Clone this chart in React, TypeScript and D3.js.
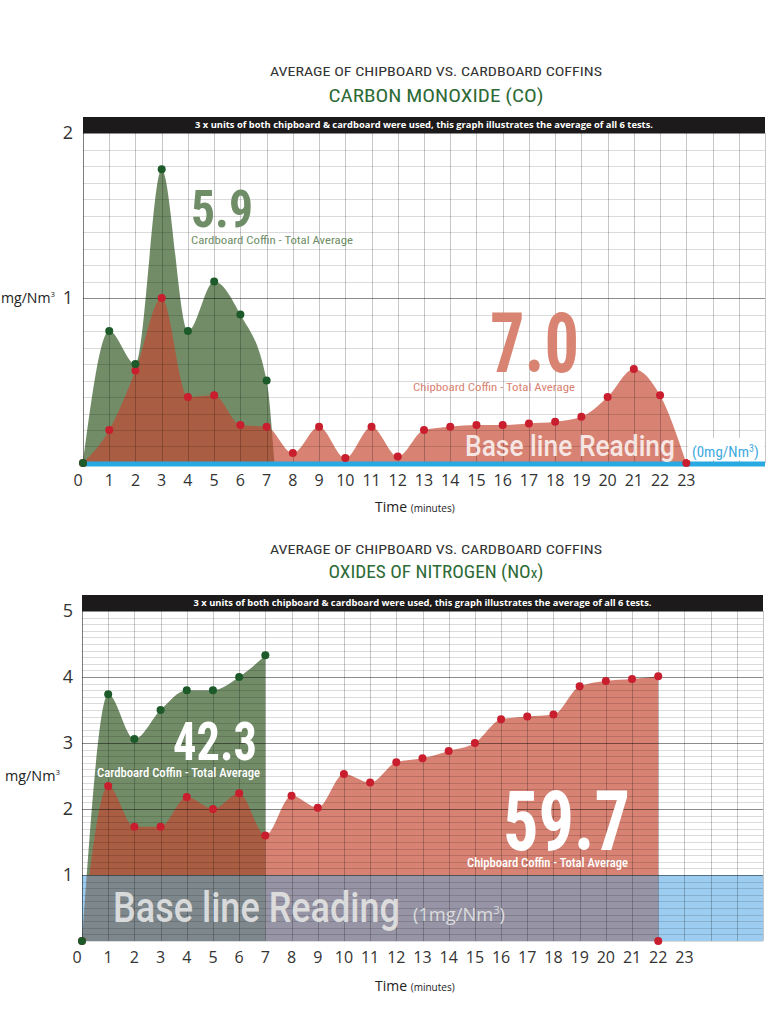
import { useEffect, useRef } from 'react'
import * as d3 from 'd3'

// x positions (minutes)
const coMinutesCardboard = [0, 1, 2, 3, 4, 5, 6, 7]
const coCardboard = [0, 0.8, 0.6, 1.78, 0.8, 1.1, 0.9, 0.5]
const coCardboardEnd = 7.3 // area meets zero here
const coMinutesChipboard = [0, 1, 2, 3, 4, 5, 6, 7, 8, 9, 10, 11, 12, 13, 14, 15, 16, 17, 18, 19, 20, 21, 22, 23]
const coChipboard = [0, 0.2, 0.56, 1.0, 0.4, 0.41, 0.23, 0.22, 0.06, 0.22, 0.03, 0.22, 0.04, 0.2, 0.22, 0.23, 0.23, 0.24, 0.25, 0.28, 0.4, 0.57, 0.41, 0]

const noxMinutesCardboard = [0, 1, 2, 3, 4, 5, 6, 7]
const noxCardboard = [0, 3.74, 3.06, 3.5, 3.8, 3.8, 4.0, 4.33]
const noxMinutesChipboard = [0, 1, 2, 3, 4, 5, 6, 7, 8, 9, 10, 11, 12, 13, 14, 15, 16, 17, 18, 19, 20, 21, 22]
const noxChipboard = [0, 2.35, 1.73, 1.73, 2.18, 2.0, 2.24, 1.6, 2.2, 2.02, 2.53, 2.4, 2.71, 2.77, 2.88, 3.0, 3.36, 3.4, 3.43, 3.86, 3.94, 3.97, 4.01]

const xTickLabels = ['0', '1', '2', '3', '4', '5', '6', '7', '8', '9', '10', '11', '12', '13', '14', '15', '16', '17', '18', '19', '20', '21', '22', '23']
const coYTicks = [1, 2]
const noxYTicks = [1, 2, 3, 4, 5]

const DIN = "'Roboto Condensed', 'Liberation Sans Narrow', 'DejaVu Sans Condensed', Roboto, sans-serif"
const WIDE = "Roboto, 'Open Sans', sans-serif"
const BODY = "'Open Sans', 'Noto Sans', sans-serif"

const GREEN_FILL = '#728c68'
const RED_FILL = '#c44731'
const GREEN_DOT = '#1d5a2a'
const RED_DOT = '#c81e2d'
const BLUE = '#29a9e1'
const BAND_BLUE = '#9ccdf0'

type Pt = [number, number]
type Svg = d3.Selection<SVGSVGElement, unknown, null, undefined>

interface Panel {
  id: string
  left: number
  right: number
  top: number
  bottom: number
  yMax: number
  yTicks: number[]
  title1Y: number
  title2: string
  title2Y: number
  unitX: number
  unitY: number
  unitW: number
  axisLabelY: number
  tickY: number
  green: Pt[]
  greenDots: Pt[]
  red: Pt[]
  redDots: Pt[]
  band?: number
}

function drawPanel(svg: Svg, p: Panel) {
  const x = d3.scaleLinear().domain([0, 26]).range([p.left, p.right])
  const y = d3.scaleLinear().domain([0, p.yMax]).range([p.bottom, p.top])
  const g = svg.append('g')

  g.append('text')
    .attr('x', 436).attr('y', p.title1Y)
    .attr('text-anchor', 'middle').attr('font-family', DIN).attr('font-size', 13)
    .attr('fill', '#333').attr('textLength', 332).attr('lengthAdjust', 'spacingAndGlyphs')
    .text('AVERAGE OF CHIPBOARD VS. CARDBOARD COFFINS')

  const t2 = g.append('text')
    .attr('x', 436).attr('y', p.title2Y)
    .attr('text-anchor', 'middle').attr('font-family', DIN).attr('font-size', 19)
    .attr('fill', '#2e6b36').attr('textLength', 215).attr('lengthAdjust', 'spacingAndGlyphs')
  if (p.title2.endsWith('(NOx)')) {
    t2.append('tspan').text('OXIDES OF NITROGEN (NO')
    t2.append('tspan').attr('font-size', 15).text('x')
    t2.append('tspan').text(')')
  } else {
    t2.text(p.title2)
  }

  // black strip
  g.append('rect')
    .attr('x', p.left).attr('y', p.top - 16)
    .attr('width', p.right - p.left).attr('height', 16).attr('fill', '#1c1a1a')
  g.append('text')
    .attr('x', (p.left + p.right) / 2).attr('y', p.top - 5)
    .attr('text-anchor', 'middle').attr('font-family', BODY).attr('font-weight', 700)
    .attr('font-size', 9).attr('fill', '#fff')
    .attr('textLength', 458).attr('lengthAdjust', 'spacingAndGlyphs')
    .text('3 x units of both chipboard & cardboard were used, this graph illustrates the average of all 6 tests.')

  g.append('rect')
    .attr('x', p.left).attr('y', p.top)
    .attr('width', p.right - p.left).attr('height', p.bottom - p.top).attr('fill', '#fff')

  const area = d3.area<Pt>()
    .x((d) => x(d[0]))
    .y0(y(0))
    .y1((d) => y(d[1]))
    .curve(d3.curveMonotoneX)

  g.append('path').datum(p.green).attr('fill', GREEN_FILL).attr('d', area)
  g.append('path').datum(p.red).attr('fill', RED_FILL).attr('opacity', 0.68).attr('d', area)

  if (p.band !== undefined) {
    g.append('rect')
      .attr('x', x(0)).attr('y', y(p.band))
      .attr('width', x(26) - x(0)).attr('height', y(0) - y(p.band))
      .attr('fill', BAND_BLUE)
    g.append('clipPath').attr('id', `band-${p.id}`)
      .append('rect')
      .attr('x', x(0)).attr('y', y(p.band))
      .attr('width', x(26) - x(0)).attr('height', y(0) - y(p.band))
    const bandG = g.append('g').attr('clip-path', `url(#band-${p.id})`)
    bandG.append('path').datum(p.red).attr('fill', '#9694a5').attr('d', area)
    bandG.append('path').datum(p.green).attr('fill', '#7d878c').attr('d', area)
  }

  // grid on top of the fills
  const minor = y.ticks(p.yMax * 10)
  g.selectAll(`.hgrid-${p.id}`)
    .data(minor)
    .enter().append('line')
    .attr('x1', x(0)).attr('x2', x(26))
    .attr('y1', (d) => Math.round(y(d)) + 0.5).attr('y2', (d) => Math.round(y(d)) + 0.5)
    .attr('stroke', '#000')
    .attr('stroke-opacity', (d) => (Math.abs(d - Math.round(d)) < 1e-6 && d > 0 ? 0.45 : 0.14))
  g.selectAll(`.vgrid-${p.id}`)
    .data(d3.range(0, 27))
    .enter().append('line')
    .attr('x1', (d) => Math.round(x(d)) + 0.5).attr('x2', (d) => Math.round(x(d)) + 0.5)
    .attr('y1', p.top).attr('y2', p.bottom)
    .attr('stroke', '#000')
    .attr('stroke-opacity', (d) => (d === 0 ? 0.5 : 0.22))

  if (p.band === undefined) {
    g.append('line')
      .attr('x1', x(0)).attr('x2', x(26))
      .attr('y1', y(0) + 1).attr('y2', y(0) + 1)
      .attr('stroke', BLUE).attr('stroke-width', 5)
  }

  g.selectAll(`.rdot-${p.id}`)
    .data(p.redDots)
    .enter().append('circle')
    .attr('cx', (d) => x(d[0])).attr('cy', (d) => y(d[1]))
    .attr('r', 4).attr('fill', RED_DOT)
  g.selectAll(`.gdot-${p.id}`)
    .data(p.greenDots)
    .enter().append('circle')
    .attr('cx', (d) => x(d[0])).attr('cy', (d) => y(d[1]))
    .attr('r', 4).attr('fill', GREEN_DOT)

  // axes labels
  g.selectAll(`.ytick-${p.id}`)
    .data(p.yTicks)
    .enter().append('text')
    .attr('x', 68).attr('y', (d) => y(d) + 6)
    .attr('text-anchor', 'middle').attr('font-family', BODY).attr('font-size', 18)
    .attr('fill', '#333').text((d) => String(d))

  g.selectAll(`.xtick-${p.id}`)
    .data(xTickLabels)
    .enter().append('text')
    .attr('x', (d, i) => x(i) - (i === 0 ? 5 : 0)).attr('y', p.tickY)
    .attr('text-anchor', 'middle').attr('font-family', BODY).attr('font-size', 16)
    .attr('fill', '#333').text((d) => d)

  const unit = g.append('text')
    .attr('x', p.unitX).attr('y', y(p.unitY) + 5)
    .attr('font-family', BODY).attr('font-size', 14.5).attr('fill', '#222')
    .attr('textLength', p.unitW).attr('lengthAdjust', 'spacingAndGlyphs')
  unit.append('tspan').text('mg/Nm')
  unit.append('tspan').attr('font-size', 8).attr('dy', -6).text('3')

  const time = g.append('text')
    .attr('x', 375).attr('y', p.axisLabelY)
    .attr('font-family', BODY).attr('fill', '#222')
  time.append('tspan').attr('font-size', 14).text('Time ')
  time.append('tspan').attr('font-size', 10).text('(minutes)')
}

function bigNumber(svg: Svg, xPos: number, yPos: number, value: string, size: number, width: number, color: string) {
  svg.append('text')
    .attr('x', xPos).attr('y', yPos)
    .attr('font-family', DIN).attr('font-size', size).attr('font-weight', 700).attr('fill', color)
    .attr('textLength', width).attr('lengthAdjust', 'spacingAndGlyphs')
    .text(value)
}

function caption(svg: Svg, xPos: number, yPos: number, value: string, size: number, width: number,
  color: string, weight = 400) {
  svg.append('text')
    .attr('x', xPos).attr('y', yPos)
    .attr('font-family', DIN).attr('font-size', size).attr('font-weight', weight).attr('fill', color)
    .attr('textLength', width).attr('lengthAdjust', 'spacingAndGlyphs')
    .text(value)
}

export default function App() {
  const svgRef = useRef<SVGSVGElement>(null)

  useEffect(() => {
    if (!svgRef.current) return
    const svg = d3.select(svgRef.current)
    svg.selectAll('*').remove()

    const coGreen: Pt[] = coMinutesCardboard.map((t, i) => [t, coCardboard[i]] as Pt)
    const coRed: Pt[] = coMinutesChipboard.map((t, i) => [t, coChipboard[i]] as Pt)
    drawPanel(svg, {
      id: 'co', left: 83, right: 765, top: 133, bottom: 463,
      yMax: 2, yTicks: coYTicks,
      title1Y: 76, title2: 'CARBON MONOXIDE (CO)', title2Y: 102,
      unitX: 1, unitY: 1, unitW: 54, axisLabelY: 512, tickY: 486,
      green: [...coGreen, [coCardboardEnd, 0]], greenDots: coGreen,
      red: coRed, redDots: coRed,
    })

    const noxGreen: Pt[] = noxMinutesCardboard.map((t, i) => [t, noxCardboard[i]] as Pt)
    const noxRed: Pt[] = noxMinutesChipboard.map((t, i) => [t, noxChipboard[i]] as Pt)
    const lastRed = noxMinutesChipboard[noxMinutesChipboard.length - 1]
    drawPanel(svg, {
      id: 'nox', left: 82, right: 763, top: 611, bottom: 941,
      yMax: 5, yTicks: noxYTicks,
      title1Y: 554, title2: 'OXIDES OF NITROGEN (NOx)', title2Y: 578,
      unitX: 5, unitY: 2.5, unitW: 55, axisLabelY: 991, tickY: 963,
      green: noxGreen, greenDots: noxGreen,
      red: noxRed, redDots: [...noxRed, [lastRed, 0]],
      band: 1,
    })

    // CO annotations
    bigNumber(svg, 191, 227, '5.9', 52, 62, '#6f8d66')
    caption(svg, 191, 244, 'Cardboard Coffin - Total Average', 11, 162, '#6f8d66')
    bigNumber(svg, 490, 372, '7.0', 84, 89, '#d98373')
    caption(svg, 413, 391, 'Chipboard Coffin - Total Average', 11, 162, '#d98373')
    svg.append('text')
      .attr('x', 465).attr('y', 456)
      .attr('font-family', WIDE).attr('font-size', 30).attr('font-weight', 500)
      .attr('fill', '#fff').attr('opacity', 0.8)
      .attr('textLength', 210).attr('lengthAdjust', 'spacingAndGlyphs')
      .text('Base line Reading')
    svg.append('rect')
      .attr('x', 688).attr('y', 438).attr('width', 76).attr('height', 22).attr('fill', '#fff')
    const zero = svg.append('text')
      .attr('x', 692).attr('y', 457)
      .attr('font-family', DIN).attr('font-size', 15).attr('fill', '#3fa9e0')
    zero.append('tspan').text('(0mg/Nm')
    zero.append('tspan').attr('font-size', 10).attr('dy', -5).text('3')
    zero.append('tspan').attr('dy', 5).text(')')

    // NOx annotations
    bigNumber(svg, 173, 760, '42.3', 53, 84, '#fff')
    caption(svg, 97, 777, 'Cardboard Coffin - Total Average', 12, 163, '#fff', 500)
    bigNumber(svg, 503, 850, '59.7', 84, 127, '#fff')
    caption(svg, 467, 867, 'Chipboard Coffin - Total Average', 12, 161, '#fff', 500)
    svg.append('text')
      .attr('x', 113).attr('y', 922)
      .attr('font-family', WIDE).attr('font-size', 42).attr('font-weight', 500)
      .attr('fill', '#e4e4e4').attr('opacity', 0.9)
      .attr('textLength', 287).attr('lengthAdjust', 'spacingAndGlyphs')
      .text('Base line Reading')
    const one = svg.append('text')
      .attr('x', 413).attr('y', 921)
      .attr('font-family', BODY).attr('font-size', 18).attr('fill', '#e4e4e4').attr('opacity', 0.9)
      .attr('textLength', 92).attr('lengthAdjust', 'spacingAndGlyphs')
    one.append('tspan').text('(1mg/Nm')
    one.append('tspan').attr('font-size', 11).attr('dy', -7).text('3')
    one.append('tspan').attr('dy', 7).text(')')
  }, [])

  return (
    <svg ref={svgRef} width={776} height={1024}
      style={{ position: 'absolute', left: 0, top: 0, background: '#fff' }}></svg>
  )
}
